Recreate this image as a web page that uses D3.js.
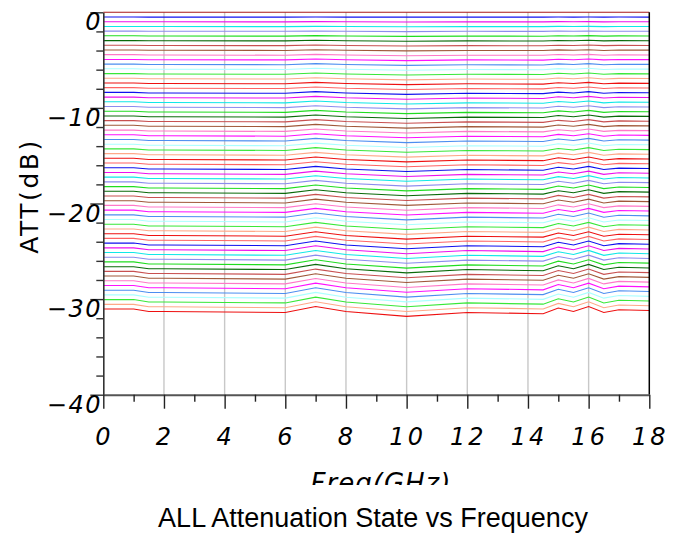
<!DOCTYPE html>
<html><head><meta charset="utf-8">
<script src="https://cdn.jsdelivr.net/npm/d3@7"></script>
<style>html,body{margin:0;padding:0;background:#fff;}svg{display:block;}</style>
</head><body>
<svg id="chart" width="683" height="536"></svg>
<script>
// Frequencies (GHz) at which each attenuation state is sampled
const freqs = [0, 1, 1.5, 2, 6, 7, 8, 10, 12, 14.5, 15, 15.5, 16, 16.5, 17, 18];
// Tick labels
const xTickValues = [0, 2, 4, 6, 8, 10, 12, 14, 16, 18];
const yTickValues = [0, -10, -20, -30, -40];
// Colour cycle of the traces (state index modulo 16); state 0 drawn darker
const palette = ["#ff6464", "#1010ee", "#ee10ee", "#10e8e8", "#8c8cee", "#20dd20", "#0a6a0a", "#c85050",
                 "#a0583a", "#ff78c8", "#ff10ff", "#4c8ef0", "#aaffff", "#38e838", "#ffa888", "#ee1010"];
const firstColor = "#a81818";
// Attenuation (dB) of the 64 states, one row per state, one value per frequency
const states = [
[0,0,0,0,0,0,0,0,0,0,0,0,0,0,0,0],
[-0.49,-0.49,-0.50,-0.50,-0.50,-0.49,-0.50,-0.50,-0.50,-0.50,-0.49,-0.50,-0.49,-0.50,-0.49,-0.50],
[-0.99,-0.99,-0.99,-0.99,-1.00,-0.98,-0.99,-1.01,-1.00,-1.00,-0.98,-0.99,-0.98,-1.00,-0.99,-0.99],
[-1.48,-1.48,-1.49,-1.49,-1.50,-1.47,-1.49,-1.51,-1.50,-1.50,-1.47,-1.49,-1.47,-1.50,-1.48,-1.49],
[-1.97,-1.97,-1.99,-1.99,-1.99,-1.95,-1.99,-2.02,-1.99,-2.00,-1.96,-1.99,-1.95,-1.99,-1.98,-1.98],
[-2.46,-2.46,-2.48,-2.48,-2.49,-2.44,-2.48,-2.52,-2.49,-2.50,-2.46,-2.48,-2.44,-2.49,-2.47,-2.48],
[-2.96,-2.96,-2.98,-2.98,-2.99,-2.93,-2.98,-3.03,-2.99,-3.00,-2.95,-2.98,-2.93,-2.99,-2.96,-2.97],
[-3.45,-3.45,-3.48,-3.48,-3.49,-3.42,-3.48,-3.53,-3.49,-3.50,-3.44,-3.48,-3.42,-3.49,-3.46,-3.47],
[-3.94,-3.94,-3.97,-3.97,-3.99,-3.91,-3.97,-4.04,-3.99,-4.00,-3.93,-3.97,-3.91,-3.99,-3.95,-3.96],
[-4.43,-4.43,-4.47,-4.47,-4.49,-4.40,-4.47,-4.54,-4.49,-4.50,-4.42,-4.47,-4.40,-4.49,-4.44,-4.46],
[-4.93,-4.93,-4.97,-4.97,-4.98,-4.88,-4.97,-5.05,-4.98,-5.00,-4.91,-4.97,-4.88,-4.98,-4.94,-4.95],
[-5.42,-5.42,-5.46,-5.46,-5.48,-5.37,-5.46,-5.55,-5.48,-5.51,-5.40,-5.46,-5.37,-5.48,-5.43,-5.45],
[-5.91,-5.91,-5.96,-5.96,-5.98,-5.86,-5.96,-6.06,-5.98,-6.01,-5.89,-5.96,-5.86,-5.98,-5.93,-5.94],
[-6.41,-6.41,-6.46,-6.46,-6.48,-6.35,-6.46,-6.56,-6.48,-6.51,-6.38,-6.46,-6.35,-6.48,-6.42,-6.44],
[-6.90,-6.90,-6.95,-6.95,-6.98,-6.84,-6.95,-7.07,-6.98,-7.01,-6.88,-6.95,-6.84,-6.98,-6.91,-6.93],
[-7.39,-7.39,-7.45,-7.45,-7.48,-7.33,-7.45,-7.57,-7.48,-7.51,-7.37,-7.45,-7.33,-7.48,-7.41,-7.43],
[-7.88,-7.88,-7.95,-7.95,-7.97,-7.81,-7.95,-8.08,-7.97,-8.01,-7.86,-7.95,-7.81,-7.97,-7.90,-7.92],
[-8.38,-8.38,-8.44,-8.44,-8.47,-8.30,-8.44,-8.58,-8.47,-8.51,-8.35,-8.44,-8.30,-8.47,-8.39,-8.42],
[-8.87,-8.87,-8.94,-8.94,-8.97,-8.79,-8.94,-9.09,-8.97,-9.01,-8.84,-8.94,-8.79,-8.97,-8.89,-8.91],
[-9.36,-9.36,-9.44,-9.44,-9.47,-9.28,-9.44,-9.59,-9.47,-9.51,-9.33,-9.44,-9.28,-9.47,-9.38,-9.41],
[-9.85,-9.85,-9.93,-9.93,-9.97,-9.77,-9.93,-10.10,-9.97,-10.01,-9.82,-9.93,-9.77,-9.97,-9.88,-9.90],
[-10.35,-10.35,-10.43,-10.43,-10.47,-10.26,-10.43,-10.60,-10.47,-10.51,-10.31,-10.43,-10.26,-10.47,-10.37,-10.40],
[-10.84,-10.84,-10.93,-10.93,-10.96,-10.74,-10.93,-11.11,-10.96,-11.01,-10.80,-10.93,-10.74,-10.96,-10.86,-10.89],
[-11.33,-11.33,-11.42,-11.42,-11.46,-11.23,-11.42,-11.61,-11.46,-11.51,-11.30,-11.42,-11.23,-11.46,-11.36,-11.39],
[-11.82,-11.82,-11.92,-11.92,-11.96,-11.72,-11.92,-12.12,-11.96,-12.01,-11.79,-11.92,-11.72,-11.96,-11.85,-11.88],
[-12.32,-12.32,-12.42,-12.42,-12.46,-12.21,-12.42,-12.62,-12.46,-12.51,-12.28,-12.42,-12.21,-12.46,-12.35,-12.38],
[-12.81,-12.81,-12.91,-12.91,-12.96,-12.70,-12.91,-13.13,-12.96,-13.01,-12.77,-12.91,-12.70,-12.96,-12.84,-12.87],
[-13.30,-13.30,-13.41,-13.41,-13.46,-13.19,-13.41,-13.63,-13.46,-13.51,-13.26,-13.41,-13.19,-13.46,-13.33,-13.37],
[-13.80,-13.80,-13.91,-13.91,-13.96,-13.68,-13.91,-14.14,-13.96,-14.01,-13.75,-13.91,-13.68,-13.96,-13.83,-13.86],
[-14.29,-14.29,-14.40,-14.40,-14.45,-14.16,-14.40,-14.64,-14.45,-14.51,-14.24,-14.40,-14.16,-14.45,-14.32,-14.36],
[-14.78,-14.78,-14.90,-14.90,-14.95,-14.65,-14.90,-15.15,-14.95,-15.02,-14.73,-14.90,-14.65,-14.95,-14.81,-14.85],
[-15.27,-15.27,-15.40,-15.40,-15.45,-15.14,-15.40,-15.65,-15.45,-15.52,-15.22,-15.40,-15.14,-15.45,-15.31,-15.35],
[-15.77,-15.77,-15.89,-15.89,-15.95,-15.63,-15.89,-16.16,-15.95,-16.02,-15.72,-15.89,-15.63,-15.95,-15.80,-15.84],
[-16.26,-16.26,-16.39,-16.39,-16.45,-16.12,-16.39,-16.66,-16.45,-16.52,-16.21,-16.39,-16.12,-16.45,-16.30,-16.34],
[-16.75,-16.75,-16.89,-16.89,-16.95,-16.61,-16.89,-17.17,-16.95,-17.02,-16.70,-16.89,-16.61,-16.95,-16.79,-16.83],
[-17.24,-17.24,-17.38,-17.38,-17.44,-17.09,-17.38,-17.67,-17.44,-17.52,-17.19,-17.38,-17.09,-17.44,-17.28,-17.33],
[-17.74,-17.74,-17.88,-17.88,-17.94,-17.58,-17.88,-18.18,-17.94,-18.02,-17.68,-17.88,-17.58,-17.94,-17.78,-17.82],
[-18.23,-18.23,-18.38,-18.38,-18.44,-18.07,-18.38,-18.68,-18.44,-18.52,-18.17,-18.38,-18.07,-18.44,-18.27,-18.32],
[-18.72,-18.72,-18.87,-18.87,-18.94,-18.56,-18.87,-19.19,-18.94,-19.02,-18.66,-18.87,-18.56,-18.94,-18.76,-18.81],
[-19.22,-19.22,-19.37,-19.37,-19.44,-19.05,-19.37,-19.69,-19.44,-19.52,-19.15,-19.37,-19.05,-19.44,-19.26,-19.31],
[-19.71,-19.71,-19.87,-19.87,-19.94,-19.54,-19.87,-20.20,-19.94,-20.02,-19.64,-19.87,-19.54,-19.94,-19.75,-19.80],
[-20.20,-20.20,-20.36,-20.36,-20.43,-20.02,-20.36,-20.70,-20.43,-20.52,-20.14,-20.36,-20.02,-20.43,-20.25,-20.30],
[-20.69,-20.69,-20.86,-20.86,-20.93,-20.51,-20.86,-21.21,-20.93,-21.02,-20.63,-20.86,-20.51,-20.93,-20.74,-20.79],
[-21.19,-21.19,-21.36,-21.36,-21.43,-21.00,-21.36,-21.71,-21.43,-21.52,-21.12,-21.36,-21.00,-21.43,-21.23,-21.29],
[-21.68,-21.68,-21.85,-21.85,-21.93,-21.49,-21.85,-22.22,-21.93,-22.02,-21.61,-21.85,-21.49,-21.93,-21.73,-21.78],
[-22.17,-22.17,-22.35,-22.35,-22.43,-21.98,-22.35,-22.72,-22.43,-22.52,-22.10,-22.35,-21.98,-22.43,-22.22,-22.28],
[-22.66,-22.66,-22.85,-22.85,-22.93,-22.47,-22.85,-23.23,-22.93,-23.02,-22.59,-22.85,-22.47,-22.93,-22.71,-22.77],
[-23.16,-23.16,-23.34,-23.34,-23.42,-22.95,-23.34,-23.73,-23.42,-23.52,-23.08,-23.34,-22.95,-23.42,-23.21,-23.27],
[-23.65,-23.65,-23.84,-23.84,-23.92,-23.44,-23.84,-24.24,-23.92,-24.02,-23.57,-23.84,-23.44,-23.92,-23.70,-23.76],
[-24.14,-24.14,-24.34,-24.34,-24.42,-23.93,-24.34,-24.74,-24.42,-24.52,-24.06,-24.34,-23.93,-24.42,-24.20,-24.26],
[-24.64,-24.64,-24.84,-24.84,-24.92,-24.42,-24.84,-25.25,-24.92,-25.03,-24.56,-24.84,-24.42,-24.92,-24.69,-24.76],
[-25.13,-25.13,-25.33,-25.33,-25.42,-24.91,-25.33,-25.75,-25.42,-25.53,-25.05,-25.33,-24.91,-25.42,-25.18,-25.25],
[-25.62,-25.62,-25.83,-25.83,-25.92,-25.40,-25.83,-26.25,-25.92,-26.03,-25.54,-25.83,-25.40,-25.92,-25.68,-25.75],
[-26.11,-26.11,-26.33,-26.33,-26.42,-25.89,-26.33,-26.76,-26.42,-26.53,-26.03,-26.33,-25.89,-26.42,-26.17,-26.24],
[-26.61,-26.61,-26.82,-26.82,-26.91,-26.37,-26.82,-27.26,-26.91,-27.03,-26.52,-26.82,-26.37,-26.91,-26.67,-26.74],
[-27.10,-27.10,-27.32,-27.32,-27.41,-26.86,-27.32,-27.77,-27.41,-27.53,-27.01,-27.32,-26.86,-27.41,-27.16,-27.23],
[-27.59,-27.59,-27.82,-27.82,-27.91,-27.35,-27.82,-28.27,-27.91,-28.03,-27.50,-27.82,-27.35,-27.91,-27.65,-27.73],
[-28.08,-28.08,-28.31,-28.31,-28.41,-27.84,-28.31,-28.78,-28.41,-28.53,-27.99,-28.31,-27.84,-28.41,-28.15,-28.22],
[-28.58,-28.58,-28.81,-28.81,-28.91,-28.33,-28.81,-29.28,-28.91,-29.03,-28.48,-28.81,-28.33,-28.91,-28.64,-28.72],
[-29.07,-29.07,-29.31,-29.31,-29.41,-28.82,-29.31,-29.79,-29.41,-29.53,-28.97,-29.31,-28.82,-29.41,-29.13,-29.21],
[-29.56,-29.56,-29.80,-29.80,-29.90,-29.30,-29.80,-30.29,-29.90,-30.03,-29.47,-29.80,-29.30,-29.90,-29.63,-29.71],
[-30.05,-30.05,-30.30,-30.30,-30.40,-29.79,-30.30,-30.80,-30.40,-30.53,-29.96,-30.30,-29.79,-30.40,-30.12,-30.20],
[-30.55,-30.55,-30.80,-30.80,-30.90,-30.28,-30.80,-31.30,-30.90,-31.03,-30.45,-30.80,-30.28,-30.90,-30.62,-30.70],
[-31.04,-31.04,-31.29,-31.29,-31.40,-30.77,-31.29,-31.81,-31.40,-31.53,-30.94,-31.29,-30.77,-31.40,-31.11,-31.19]
];
const xTitle = "Freq(GHz)";
const yTitle = "ATT(dB)";
const chartTitle = "ALL Attenuation State vs Frequency";

const svg = d3.select("#chart");
const x = d3.scaleLinear().domain([0, 18]).range([103.3, 649.3]);
const y = d3.scaleLinear().domain([-40, 0]).range([394.7, 12.3]);
const hand = "'DejaVu Sans', sans-serif";

svg.append("defs").append("clipPath").attr("id", "chartClip")
  .append("rect").attr("x", 0).attr("y", 0).attr("width", 665).attr("height", 485);
const g = svg.append("g").attr("clip-path", "url(#chartClip)");

// vertical grid lines
g.append("g").selectAll("line").data(xTickValues.filter(v => v > 0 && v < 18)).join("line")
  .attr("x1", d => x(d)).attr("x2", d => x(d))
  .attr("y1", y(0)).attr("y2", y(-40))
  .attr("stroke", "#c8c8c8").attr("stroke-width", 1.4);

// traces
const line = d3.line().x((d, i) => x(freqs[i])).y(d => y(d));
g.append("g").selectAll("path").data(states).join("path")
  .attr("d", d => line(d))
  .attr("fill", "none")
  .attr("stroke", (d, i) => i === 0 ? firstColor : palette[i % 16])
  .attr("stroke-width", 1.1);

// right border
g.append("line").attr("x1", x(18)).attr("x2", x(18)).attr("y1", y(0)).attr("y2", y(-40))
  .attr("stroke", "#000").attr("stroke-width", 1.5);

// y axis
const yAxis = d3.axisLeft(y).tickValues(d3.range(-40, 1, 2)).tickFormat("")
  .tickSize(7).tickSizeOuter(0);
const yg = g.append("g").attr("transform", `translate(${x(0)},0)`).call(yAxis);
yg.select(".domain").attr("stroke", "#333").attr("stroke-width", 1.6);
yg.selectAll(".tick line").attr("stroke", "#333").attr("stroke-width", 1.4)
  .attr("x2", d => (d % 10 === 0) ? -13 : -7);

// x axis
const xAxis = d3.axisBottom(x).tickValues(d3.range(0, 19, 1)).tickFormat("")
  .tickSize(7).tickSizeOuter(0);
const xg = g.append("g").attr("transform", `translate(0,${y(-40)})`).call(xAxis);
xg.select(".domain").attr("stroke", "#555").attr("stroke-width", 2);
xg.selectAll(".tick line").attr("stroke", "#222").attr("stroke-width", 1.4)
  .attr("y2", d => (d % 2 === 0) ? 14 : 7);

// y tick labels
g.append("g").selectAll("text").data(yTickValues).join("text")
  .attr("x", 102).attr("y", d => y(d) + 18)
  .attr("text-anchor", "end")
  .attr("font-family", hand).attr("font-size", 24).attr("font-style", "italic")
  .attr("letter-spacing", 1.5)
  .attr("fill", "#000")
  .text(d => d === 0 ? "0" : "\u2212" + Math.abs(d));

// x tick labels
g.append("g").selectAll("text").data(xTickValues).join("text")
  .attr("x", d => x(d) + 1).attr("y", 445)
  .attr("text-anchor", "middle")
  .attr("font-family", hand).attr("font-size", 24).attr("font-style", "italic")
  .attr("letter-spacing", 3)
  .attr("fill", "#000")
  .text(d => d);

// axis titles
g.append("text").attr("x", 381).attr("y", 492).attr("text-anchor", "middle")
  .attr("font-family", hand).attr("font-size", 26).attr("font-style", "italic")
  .attr("letter-spacing", 1)
  .text(xTitle);
g.append("text").attr("transform", "translate(38,196) rotate(-90)")
  .attr("text-anchor", "middle")
  .attr("font-family", hand).attr("font-size", 25)
  .attr("letter-spacing", 2.5)
  .text(yTitle);

// chart title
svg.append("text").attr("x", 373).attr("y", 527).attr("text-anchor", "middle")
  .attr("font-family", "'Liberation Sans', Arial, sans-serif").attr("font-size", 27)
  .attr("fill", "#000")
  .text(chartTitle);
</script>
</body></html>
